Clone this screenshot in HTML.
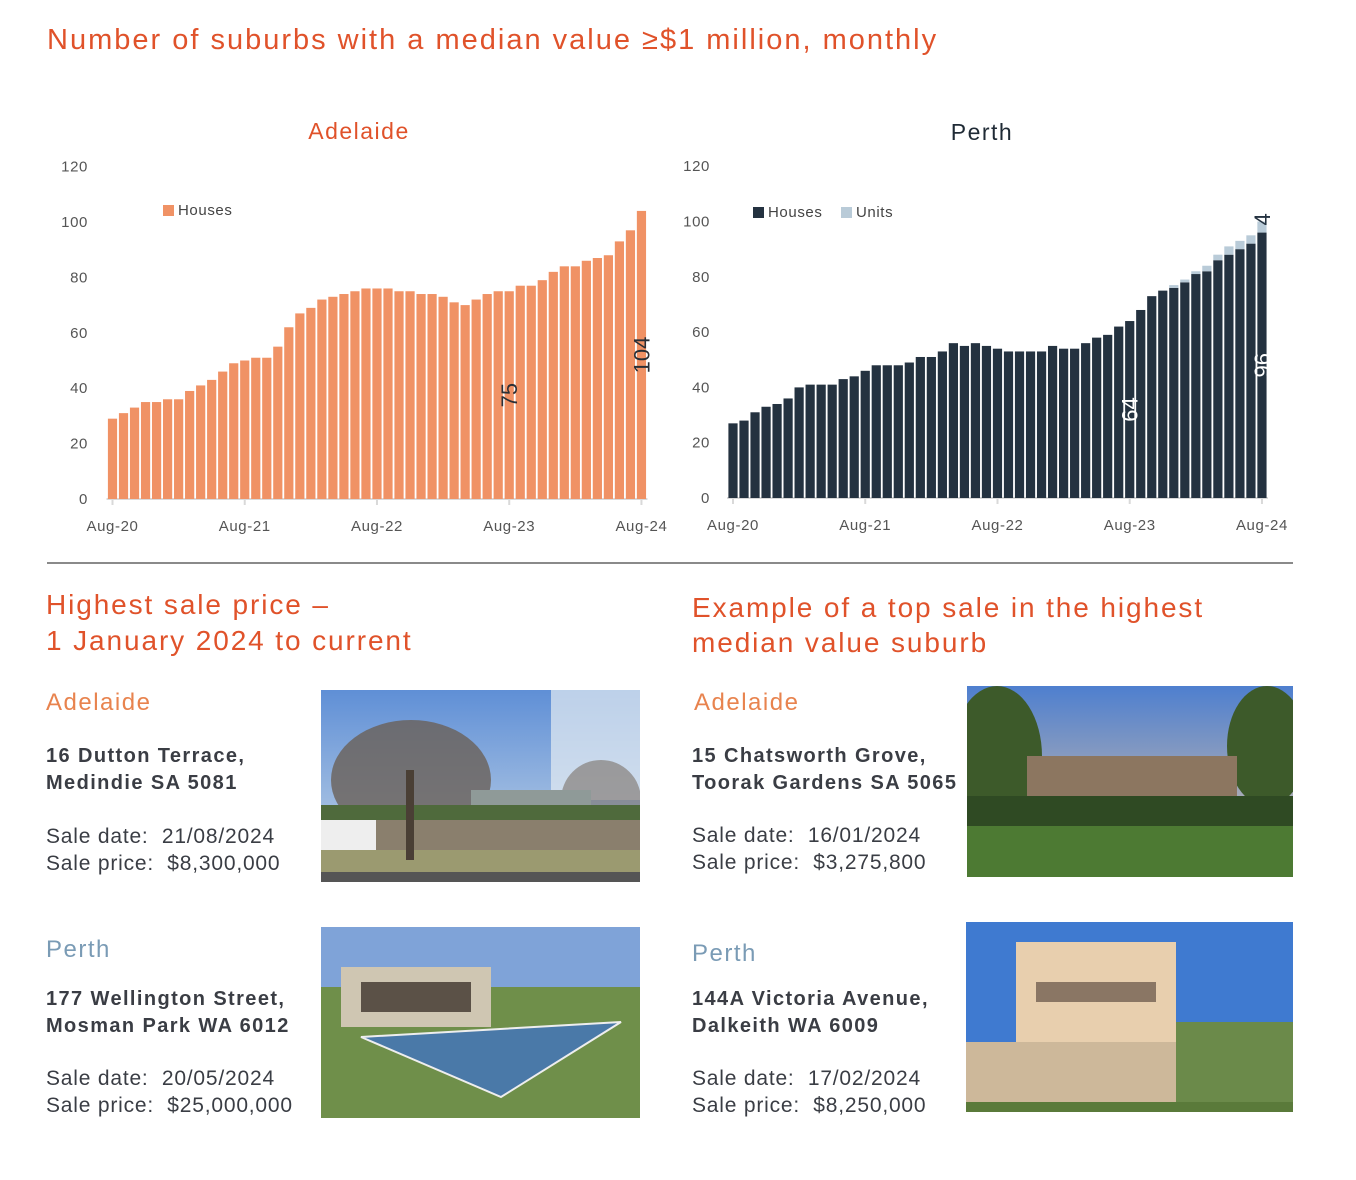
<!DOCTYPE html>
<html><head><meta charset="utf-8">
<style>
body{margin:0;background:#fff;width:1356px;height:1180px;position:relative;overflow:hidden;font-family:"Liberation Sans",sans-serif;}
.a{position:absolute;white-space:nowrap;}
.h{color:#E0522A;}
.sub{font-size:24px;letter-spacing:1.5px;}
.addr{font-size:20px;font-weight:bold;color:#3a3d44;line-height:27px;letter-spacing:1.4px;}
.sale{font-size:21px;color:#3a3d44;line-height:27px;letter-spacing:0.8px;}
svg text{font-family:"Liberation Sans",sans-serif;}
</style></head><body>
<div class="a h" style="left:47px;top:24px;font-size:29px;letter-spacing:2.0px;">Number of suburbs with a median value ≥$1 million, monthly</div>

<svg class="a" style="left:0;top:0" width="1356" height="560">
<text x="359" y="139" text-anchor="middle" font-size="23" letter-spacing="1.5" fill="#E0522A">Adelaide</text>
<text x="982" y="140" text-anchor="middle" font-size="23" letter-spacing="1.5" fill="#1f2a35">Perth</text>
<g id="adl"></g><g id="per"></g>
</svg>

<div class="a" style="left:47px;top:562px;width:1246px;height:2px;background:#8a8a8a;"></div>

<div class="a h" style="left:46px;top:587px;font-size:28px;line-height:36px;letter-spacing:1.9px;">Highest sale price –<br>1 January 2024 to current</div>
<div class="a h" style="left:692px;top:590px;font-size:28px;line-height:35px;letter-spacing:1.9px;">Example of a top sale in the highest<br>median value suburb</div>

<div class="a sub" style="left:46px;top:689px;color:#E8834E;">Adelaide</div>
<div class="a addr" style="left:46px;top:743px;">16 Dutton Terrace,<br>Medindie SA 5081</div>
<div class="a sale" style="left:46px;top:823px;">Sale date:&nbsp; 21/08/2024<br>Sale price:&nbsp; $8,300,000</div>

<div class="a sub" style="left:46px;top:936px;color:#7A9BB5;">Perth</div>
<div class="a addr" style="left:46px;top:986px;">177 Wellington Street,<br>Mosman Park WA 6012</div>
<div class="a sale" style="left:46px;top:1065px;">Sale date:&nbsp; 20/05/2024<br>Sale price:&nbsp; $25,000,000</div>

<div class="a sub" style="left:694px;top:689px;color:#E8834E;">Adelaide</div>
<div class="a addr" style="left:692px;top:743px;">15 Chatsworth Grove,<br>Toorak Gardens SA 5065</div>
<div class="a sale" style="left:692px;top:822px;">Sale date:&nbsp; 16/01/2024<br>Sale price:&nbsp; $3,275,800</div>

<div class="a sub" style="left:692px;top:940px;color:#7A9BB5;">Perth</div>
<div class="a addr" style="left:692px;top:986px;">144A Victoria Avenue,<br>Dalkeith WA 6009</div>
<div class="a sale" style="left:692px;top:1065px;">Sale date:&nbsp; 17/02/2024<br>Sale price:&nbsp; $8,250,000</div>

<svg class="a" style="left:321px;top:690px" width="319" height="192">
<defs><linearGradient id="s1" x1="0" y1="0" x2="0" y2="1"><stop offset="0" stop-color="#5f8fd6"/><stop offset="1" stop-color="#c9d9e8"/></linearGradient></defs>
<rect width="319" height="192" fill="url(#s1)"/><rect x="230" width="89" height="110" fill="#e6ecf2" opacity=".7"/>
<ellipse cx="90" cy="90" rx="80" ry="60" fill="#6a6058" opacity=".8"/><ellipse cx="280" cy="110" rx="40" ry="40" fill="#7a7068" opacity=".6"/>
<rect x="150" y="100" width="120" height="30" fill="#8f9a98"/><rect y="115" width="319" height="20" fill="#4f6a3c"/>
<rect y="130" width="319" height="35" fill="#8a7f6d"/><rect x="0" y="130" width="55" height="30" fill="#eeeeee"/>
<rect y="160" width="319" height="22" fill="#9b9a70"/><rect y="182" width="319" height="10" fill="#555"/>
<rect x="85" y="80" width="8" height="90" fill="#4a3f35"/></svg>

<svg class="a" style="left:321px;top:927px" width="319" height="191">
<rect width="319" height="191" fill="#7fa3d8"/><rect y="60" width="319" height="131" fill="#6f8f4a"/>
<rect x="20" y="40" width="150" height="60" fill="#cfc6b2"/><rect x="40" y="55" width="110" height="30" fill="#5b5147"/>
<polygon points="40,110 300,95 180,170" fill="#4a79a8" stroke="#eee" stroke-width="2"/></svg>

<svg class="a" style="left:967px;top:686px" width="326" height="191">
<defs><linearGradient id="s3" x1="0" y1="0" x2="0" y2="1"><stop offset="0" stop-color="#4e7fcf"/><stop offset="1" stop-color="#e6c9a6"/></linearGradient></defs>
<rect width="326" height="191" fill="url(#s3)"/><ellipse cx="30" cy="70" rx="45" ry="70" fill="#3d5a2a"/><ellipse cx="300" cy="60" rx="40" ry="60" fill="#3d5a2a"/>
<rect x="60" y="70" width="210" height="50" fill="#8c7660"/><rect x="0" y="110" width="326" height="40" fill="#2f4a23"/>
<rect y="140" width="326" height="51" fill="#4d7a33"/></svg>

<svg class="a" style="left:966px;top:922px" width="327" height="190">
<rect width="327" height="190" fill="#3f7ad0"/><rect x="50" y="20" width="160" height="150" fill="#e8cfae"/>
<rect x="70" y="60" width="120" height="20" fill="#8a7664"/><rect y="120" width="327" height="70" fill="#cdb89a"/>
<rect x="210" y="100" width="117" height="90" fill="#6b8a4a"/><rect y="180" width="327" height="10" fill="#5a7a3a"/></svg>

<script>
const months=["Aug-20","Aug-21","Aug-22","Aug-23","Aug-24"];
const yTicks=[0,20,40,60,80,100,120];
const adlHouses=[29,31,33,35,35,36,36,39,41,43,46,49,50,51,51,55,62,67,69,72,73,74,75,76,76,76,75,75,74,74,73,71,70,72,74,75,75,77,77,79,82,84,84,86,87,88,93,97,104];
const perHouses=[27,28,31,33,34,36,40,41,41,41,43,44,46,48,48,48,49,51,51,53,56,55,56,55,54,53,53,53,53,55,54,54,56,58,59,62,64,68,73,75,76,78,81,82,86,88,90,92,96];
const perUnits=[0,0,0,0,0,0,0,0,0,0,0,0,0,0,0,0,0,0,0,0,0,0,0,0,0,0,0,0,0,0,0,0,0,0,0,0,0,0,0,0,1,1,1,2,2,3,3,3,4];
const NS="http://www.w3.org/2000/svg";
function mk(g,t,a){const e=document.createElementNS(NS,t);for(const k in a)e.setAttribute(k,a[k]);g.appendChild(e);return e;}
function chart(gid,o,series,colors,labels,legend){
  const g=document.getElementById(gid);
  const n=series[0].length;
  const y=v=>o.y0-v*o.py;
  const x=i=>o.x0+i*o.step;
  yTicks.forEach(t=>{const e=mk(g,"text",{x:o.yl,y:y(t)+5,"text-anchor":"end","font-size":15,"letter-spacing":0.6,fill:"#555"});e.textContent=t;
    
    });
  mk(g,"line",{x1:x(0)-6,x2:x(n-1)+6,y1:o.y0,y2:o.y0,stroke:"#d9d9d9","stroke-width":2});
  months.forEach((m,k)=>{const xi=x(k*12);mk(g,"line",{x1:xi,x2:xi,y1:o.y0,y2:o.y0+6,stroke:"#d9d9d9","stroke-width":2});
    const e=mk(g,"text",{x:xi,y:o.y0+32,"text-anchor":"middle","font-size":15,"letter-spacing":0.6,fill:"#555"});e.textContent=m;
    
    });
  for(let i=0;i<n;i++){let base=0;series.forEach((s,si)=>{if(s[i]>0){const r=mk(g,"rect",{x:x(i)-4.6,width:9.2,y:y(base+s[i]),height:s[i]*o.py,fill:colors[si]});
      
      }base+=s[i];});}
  labels.forEach(l=>{const s=series[l.s];let v=s[l.i];let base=0;for(let q=0;q<l.s;q++)base+=series[q][l.i];
    const cy=l.top?y(base+v)+4:y(base+v/2);const e=mk(g,"text",{x:0,y:0,"text-anchor":l.top?"start":"middle","font-size":22,fill:l.c,transform:`translate(${x(l.i)+8},${cy}) rotate(-90)`});e.textContent=v;
    
    });
  legend.forEach((L,k)=>{mk(g,"rect",{x:L.x,y:o.ly-10,width:11,height:11,fill:colors[k]});const e=mk(g,"text",{x:L.x+15,y:o.ly,"font-size":15,"letter-spacing":0.6,fill:"#444"});e.textContent=L.t;
    
    });
}
chart("adl",{x0:112.5,step:11.02,y0:499,py:2.77,yl:88,ly:215},[adlHouses],["#F09265"],[{s:0,i:36,c:"#2a2f36"},{s:0,i:48,c:"#2a2f36"}],[{x:163,t:"Houses"}]);
chart("per",{x0:733,step:11.02,y0:498,py:2.765,yl:710,ly:217},[perHouses,perUnits],["#243240","#b9cbd8"],[{s:0,i:36,c:"#fff"},{s:0,i:48,c:"#fff"},{s:1,i:48,c:"#243240",top:true}],[{x:753,t:"Houses"},{x:841,t:"Units"}]);
</script>
</body></html>
